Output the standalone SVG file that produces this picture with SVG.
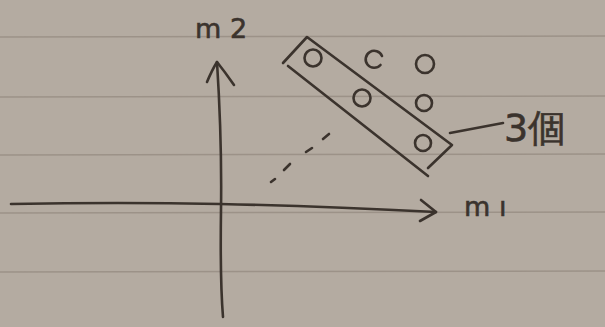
<svg xmlns="http://www.w3.org/2000/svg" width="605" height="327" viewBox="0 0 605 327">
<style>
.rule{stroke:#9c9288;stroke-width:1.5;fill:none}
.ink{stroke:#3b332d;stroke-width:2.6;fill:none;stroke-linecap:round;stroke-linejoin:round}
.txt{fill:#3b332d;stroke:#3b332d;stroke-width:0.6;font-family:"DejaVu Sans",sans-serif}
</style>
<rect width="605" height="327" fill="#b4aba1"/>
<g id="paper-lines">
<path class="rule" d="M0 37 L605 36"/>
<path class="rule" d="M0 97 L605 96"/>
<path class="rule" d="M0 155 L605 154"/>
<path class="rule" d="M0 213 L605 212"/>
<path class="rule" d="M0 272 L605 271"/>
</g>
<g id="axes">
<path class="ink" d="M11 204 Q120 202 220 204 T436 212"/>
<path class="ink" d="M421 200 L436 212 L420 221"/>
<path class="ink" d="M217 62 Q222 140 221 210 T223 317"/>
<path class="ink" d="M207 82 Q212 70 217 62 Q225 72 234 85"/>
</g>
<g id="dashes">
<path class="ink" d="M323 139 L329 134"/>
<path class="ink" d="M306 152 L312 148"/>
<path class="ink" d="M284 170 L290 164"/>
<path class="ink" d="M271 182 L275 179"/>
</g>
<g id="cluster">
<path class="ink" d="M283 63 L307 37 L452 145 L428 168"/>
<path class="ink" d="M288 66 L428 176"/>
<circle class="ink" cx="313" cy="58" r="8.5"/>
<path class="ink" d="M380.5 65 A8.5 8.5 0 1 1 382 56"/>
<circle class="ink" cx="425" cy="64" r="9"/>
<circle class="ink" cx="362" cy="98" r="8.5"/>
<circle class="ink" cx="424" cy="103" r="8"/>
<circle class="ink" cx="423" cy="143" r="8"/>
</g>
<g id="label-3">
<path class="ink" d="M450 133 L503 123"/>
<text class="txt" x="504" y="141" font-size="38">3個</text>
</g>
<text class="txt" x="195" y="38" font-size="27">m 2</text>
<text class="txt" x="464" y="216" font-size="27">m ı</text>
</svg>
